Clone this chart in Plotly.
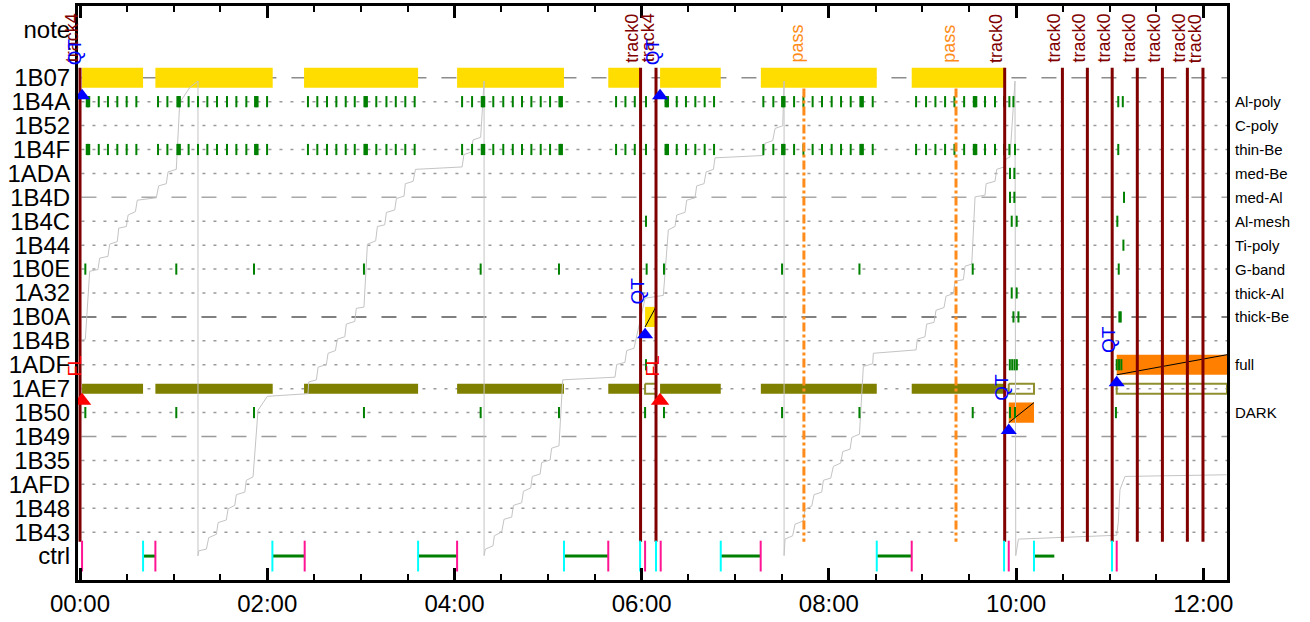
import plotly.graph_objects as go
import pandas as pd

# ---------------- data ----------------
T0 = pd.Timestamp("2024-01-01 00:00:00")
X_RANGE = [-1.3, 735.2]  # minutes after 00:00

row_labels = ["note", "1B07", "1B4A", "1B52", "1B4F", "1ADA", "1B4D", "1B4C", "1B44", "1B0E",
              "1A32", "1B0A", "1B4B", "1ADF", "1AE7", "1B50", "1B49", "1B35", "1AFD", "1B48",
              "1B43", "ctrl"]
row_pos = [-2, 0, 1, 2, 3, 4, 5, 6, 7, 8, 9, 10, 11, 12, 13, 14, 15, 16, 17, 18, 19, 20]

filter_rows = [1, 2, 3, 4, 5, 6, 7, 8, 9, 10, 12, 14]
filter_names = ["Al-poly", "C-poly", "thin-Be", "med-Be", "med-Al", "Al-mesh", "Ti-poly",
                "G-band", "thick-Al", "thick-Be", "full", "DARK"]

dashed_rows = [0, 5, 10, 15]
dashed_colors = ["#8c8c8c", "#a8a8a8", "#555555", "#9a9a9a"]

# exposure intervals (minutes)
exp_start = [1.3, 48.3, 143.6, 241.7, 338.6, 371.8, 436.4, 533.1]
exp_end = [40.4, 123.5, 216.7, 310.2, 359.0, 410.7, 510.7, 592.9]
hollow_start = [362.2, 595.3, 664.5]
hollow_end = [369.2, 611.5, 735.2]
orange_start = [595.3, 664.5]
orange_end = [611.5, 735.2]
orange_row = [14, 12]
small_start = [362.2]
small_end = [369.2]
small_row = [10]

# triangles / flags
qt_time = [1.3, 371.8, 362.2, 595.3, 664.5]
qt_row = [0.75, 0.75, 10.75, 14.75, 12.75]
qt_label_row = [-0.42, -0.42, 9.58, 13.58, 11.58]
fl_time = [1.3, 371.8]
fl_row = [13.5, 13.5]
fl_label_row = [12.8, 12.8]

# track and pass lines
track_time = [0.0, 359.3, 369.2, 592.7, 629.7, 645.7, 661.6, 677.7, 693.8, 709.8, 719.8]
track_text = ["track4", "track0", "track4", "track0", "track0", "track0", "track0", "track0",
              "track0", "track0", "track0"]
pass_time = [464.0, 561.5]

# ctrl row
pink_time = [1.3, 48.3, 144.0, 241.7, 338.6, 362.2, 372.2, 436.3, 533.1, 595.3, 664.5]
cyan_time = [40.4, 123.3, 216.7, 310.2, 359.0, 369.2, 410.7, 510.7, 592.3, 611.5, 661.5]
seg_start = [40.4, 123.3, 216.7, 310.2, 410.7, 510.7, 611.5]
seg_end = [48.3, 144.0, 241.7, 338.6, 436.3, 533.1, 624.5]

# green event ticks per row
ticks_1B4A = [5.1, 12.0, 17.9, 23.9, 29.9, 36.1,
              50.0, 56.0, 63.2, 69.6, 75.6, 81.6, 87.8, 94.2, 100.2, 106.6, 113.0, 119.9,
              146.1, 152.1, 158.3, 164.3, 170.3, 176.1, 183.1, 189.9, 196.4, 202.4, 208.5, 214.5,
              244.9, 251.3, 258.3, 264.9, 271.3, 277.4, 283.3, 289.3, 295.3, 301.3, 308.1,
              343.6, 349.6, 355.6, 362.8,
              376.1, 382.5, 388.4, 394.4, 400.4, 406.4,
              438.0, 444.4, 450.8, 457.7, 463.7, 469.6, 475.6, 481.8, 487.8, 494.0, 501.0, 508.1,
              535.9, 542.3, 548.3, 554.5, 560.5, 566.7, 573.7, 580.1, 586.5, 592.3, 595.7, 598.3,
              665.5, 668.4]
ticks_1B4F = [5.1, 12.0, 17.9, 23.9, 29.9, 36.1,
              50.0, 56.0, 63.2, 69.6, 75.6, 81.6, 87.8, 94.2, 100.2, 106.6, 113.0, 119.9,
              146.1, 152.1, 158.3, 164.3, 170.3, 176.1, 183.1, 189.9, 196.4, 202.4, 208.5, 214.5,
              244.9, 251.3, 258.3, 264.9, 271.3, 277.4, 283.3, 289.3, 295.3, 301.3, 308.1,
              343.6, 349.6, 355.6, 362.8,
              376.1, 382.5, 388.4, 394.4, 400.4, 406.4,
              438.0, 444.4, 450.8, 457.7, 463.7, 469.6, 475.6, 481.8, 487.8, 494.0, 501.0, 508.1,
              535.9, 542.3, 548.3, 554.5, 560.5, 566.7, 573.7, 580.1, 586.5, 592.3, 595.7, 599.3,
              665.5]
ticks_1ADA = [596.1, 598.9]
ticks_1B4D = [596.1, 598.9, 669.2]
ticks_1B4C = [362.8, 597.2, 600.4, 664.9]
ticks_1B44 = [668.8]
ticks_1B0E = [3.4, 61.7, 111.5, 182.0, 256.8, 307.0, 363.2, 374.3, 450.0, 499.6, 572.2, 665.8]
ticks_1A32 = [597.2, 600.4]
ticks_1B0A = [598.3, 601.5, 666.2, 667.1]
ticks_1ADF = [362.8, 596.0, 597.5, 599.0, 600.5, 664.5, 666.0, 667.5]
ticks_1B50 = [3.4, 61.7, 111.5, 182.0, 256.8, 307.0, 362.2, 374.3, 450.0, 499.6, 572.2,
              596.1, 599.3, 664.0]
thick_ticks = [5.1, 63.2, 113.0, 183.1, 258.3, 308.1, 376.1, 450.8, 501.0, 573.7]

# cumulative progress (light grey saw-tooth)
prog_t = [-1.3, 3.4, 6.2, 11.5, 12.6, 17.9, 19.0, 23.9, 24.8, 29.7, 30.8, 35.5, 36.7, 48.9, 50.4,
          55.3, 56.4, 61.7, 63.9, 70.3, 75.6, 75.6,
          76.1, 81.0, 82.5, 87.4, 88.5, 93.8, 94.9, 99.2, 100.2, 105.6, 106.6, 110.9, 114.1, 120.1,
          146.1, 146.6, 151.5, 152.6, 157.9, 159.0, 163.7, 164.9, 169.7, 170.7, 176.1, 177.1,
          182.0, 184.2, 189.5, 190.6, 195.3, 196.4, 201.7, 202.8, 207.7, 208.5, 213.5, 215.0,
          244.9, 246.1, 250.8, 251.9, 256.8, 259.0, 259.0,
          259.8, 264.7, 265.6, 270.3, 271.8, 276.7, 277.8, 283.1, 284.2, 288.9, 289.9, 294.9,
          295.9, 301.3, 302.3, 307.0, 309.4, 342.9, 344.0, 349.3, 350.4, 355.1, 356.8, 362.2,
          373.9, 377.1, 381.4, 382.5, 387.8, 388.9, 394.2, 395.3, 400.0, 401.3, 406.0, 407.0,
          438.0, 439.1, 444.0, 445.5, 450.4, 451.3, 451.3,
          451.9, 456.8, 458.3, 463.6, 464.7, 469.0, 470.5, 475.4, 476.5, 481.2, 482.9, 487.6,
          488.9, 493.6, 494.7, 499.6, 502.1, 508.1, 508.5, 535.9, 536.7, 541.6, 542.7, 547.4,
          548.7, 553.8, 555.1, 559.8, 560.9, 566.2, 567.3, 571.6, 573.7, 580.1, 580.8, 586.5,
          587.6, 592.3, 593.6, 596.1, 598.3, 599.3, 599.8,
          601.5, 664.5, 665.5, 666.6, 669.8, 735.0]
prog_r = [11.0, 10.93, 8.09, 8.02, 7.54, 7.47, 6.96, 6.85, 6.29, 6.22, 5.74, 5.60, 5.12, 5.02, 4.52,
          4.43, 3.94, 3.83, 1.04, 0.41, 0.14, 19.99,
          19.78, 19.71, 19.23, 19.09, 18.60, 18.49, 18.02, 17.88, 17.43, 17.33, 16.83, 16.69, 13.90, 13.32,
          13.21, 12.72, 12.63, 12.10, 11.99, 11.52, 11.41, 10.93, 10.83, 10.30, 10.19, 9.64,
          9.59, 6.96, 6.82, 6.22, 6.15, 5.63, 5.53, 5.05, 4.95, 4.43, 4.33, 3.83,
          3.73, 3.21, 3.11, 2.60, 2.49, 0.14, 19.98,
          19.71, 19.57, 19.15, 18.99, 18.46, 18.37, 17.88, 17.77, 17.29, 17.15, 16.67, 16.57,
          16.09, 15.98, 15.49, 15.39, 12.63, 12.52, 11.99, 11.90, 11.41, 11.31, 10.79, 9.22,
          9.10, 6.36, 6.22, 5.74, 5.63, 5.12, 5.02, 4.52, 4.43, 3.94, 3.83, 3.35,
          3.25, 2.74, 2.63, 2.12, 2.01, 0.14, 19.98,
          19.29, 19.15, 18.67, 18.53, 18.05, 17.91, 17.43, 17.33, 16.83, 16.74, 16.25, 16.11,
          15.63, 15.53, 15.04, 14.90, 12.07, 11.96, 11.52, 11.38, 10.93, 10.83, 10.30, 10.23,
          9.72, 9.61, 9.13, 9.03, 8.51, 8.44, 7.88, 7.79, 4.98, 4.91, 4.43, 4.33,
          3.83, 3.73, 3.39, 3.32, 1.31, 0.14, 19.98,
          19.29, 19.13, 18.60, 17.22, 16.67, 16.60]

# ---------------- helpers ----------------
FONT = "Liberation Sans, Arial, sans-serif"


def tm(m):
    if m is None:
        return None
    return (T0 + pd.Timedelta(minutes=m)).strftime("%Y-%m-%d %H:%M:%S.%f")


def boxes(starts, ends, rows, half):
    xs, ys = [], []
    for s, e, r in zip(starts, ends, rows):
        xs += [tm(s), tm(e), tm(e), tm(s), tm(s), None]
        ys += [r - half, r - half, r + half, r + half, r - half, None]
    return xs, ys


def diagonals(starts, ends, rows, half):
    xs, ys = [], []
    for s, e, r in zip(starts, ends, rows):
        xs += [tm(s), tm(e), None]
        ys += [r + half, r - half, None]
    return xs, ys


def vlines(times, y0, y1):
    xs, ys = [], []
    for t in times:
        xs += [tm(t), tm(t), None]
        ys += [y0, y1, None]
    return xs, ys


fig = go.Figure()

# exposure bars
x, y = boxes(exp_start, exp_end, [0] * len(exp_start), 0.42)
fig.add_trace(go.Scatter(x=x, y=y, fill="toself", fillcolor="#FFDD00", mode="lines",
                         line=dict(width=0), hoverinfo="skip"))
x, y = boxes(exp_start, exp_end, [13] * len(exp_start), 0.21)
fig.add_trace(go.Scatter(x=x, y=y, fill="toself", fillcolor="#808000", mode="lines",
                         line=dict(width=0), hoverinfo="skip"))
x, y = boxes(hollow_start, hollow_end, [13] * len(hollow_start), 0.21)
fig.add_trace(go.Scatter(x=x, y=y, mode="lines", line=dict(width=2, color="#8f8f30"),
                         hoverinfo="skip"))
x, y = boxes(orange_start, orange_end, orange_row, 0.42)
fig.add_trace(go.Scatter(x=x, y=y, fill="toself", fillcolor="#FF8000", mode="lines",
                         line=dict(width=0), hoverinfo="skip"))
x, y = boxes(small_start, small_end, small_row, 0.42)
fig.add_trace(go.Scatter(x=x, y=y, fill="toself", fillcolor="#FFDD00", mode="lines",
                         line=dict(width=0), hoverinfo="skip"))
x, y = diagonals(orange_start + small_start, orange_end + small_end, orange_row + small_row, 0.42)
fig.add_trace(go.Scatter(x=x, y=y, mode="lines", line=dict(width=1, color="black"),
                         hoverinfo="skip"))

# progress line
fig.add_trace(go.Scatter(x=[tm(t) for t in prog_t], y=prog_r, mode="lines",
                         line=dict(width=1, color="#c4c4c4"), hoverinfo="skip"))

# green event ticks
tick_rows = {1: ticks_1B4A, 3: ticks_1B4F, 4: ticks_1ADA, 5: ticks_1B4D, 6: ticks_1B4C,
             7: ticks_1B44, 8: ticks_1B0E, 9: ticks_1A32, 10: ticks_1B0A, 12: ticks_1ADF,
             14: ticks_1B50}
gx, gy = [], []
for r, ts in tick_rows.items():
    gx += [tm(t) for t in ts]
    gy += [r] * len(ts)
fig.add_trace(go.Scatter(x=gx, y=gy, mode="markers",
                         marker=dict(symbol="line-ns", size=8,
                                     line=dict(width=2, color="#008000")), hoverinfo="skip"))
tx = [tm(t) for t in thick_ticks] * 2
ty = [1] * len(thick_ticks) + [3] * len(thick_ticks)
fig.add_trace(go.Scatter(x=tx, y=ty, mode="markers",
                         marker=dict(symbol="line-ns", size=8,
                                     line=dict(width=4.5, color="#008000")), hoverinfo="skip"))

# pass lines
x, y = vlines(pass_time, 0.45, 19.4)
fig.add_trace(go.Scatter(x=x, y=y, mode="lines",
                         line=dict(width=3, color="#FF8C1A", dash="dashdot"), hoverinfo="skip"))
# track lines
x, y = vlines(track_time, -0.42, 19.4)
fig.add_trace(go.Scatter(x=x, y=y, mode="lines", line=dict(width=3, color="#800000"),
                         hoverinfo="skip"))

# ctrl row
sx, sy = [], []
for s, e in zip(seg_start, seg_end):
    sx += [tm(s), tm(e), None]
    sy += [20, 20, None]
fig.add_trace(go.Scatter(x=sx, y=sy, mode="lines", line=dict(width=3, color="#008000"),
                         hoverinfo="skip"))
fig.add_trace(go.Scatter(x=[tm(t) for t in cyan_time], y=[20] * len(cyan_time), mode="markers",
                         marker=dict(symbol="line-ns", size=22,
                                     line=dict(width=2, color="#00FFFF")), hoverinfo="skip"))
fig.add_trace(go.Scatter(x=[tm(t) for t in pink_time], y=[20] * len(pink_time), mode="markers",
                         marker=dict(symbol="line-ns", size=22,
                                     line=dict(width=2, color="#FF1493")), hoverinfo="skip"))

# triangles
fig.add_trace(go.Scatter(x=[tm(t) for t in qt_time], y=qt_row, mode="markers",
                         marker=dict(symbol="triangle-up", size=14, color="#0000FF"),
                         hoverinfo="skip"))
fig.add_trace(go.Scatter(x=[tm(t) for t in fl_time], y=fl_row, mode="markers",
                         marker=dict(symbol="triangle-up", size=16, color="#FF0000"),
                         hoverinfo="skip"))

# grid lines per row
shapes = []
for r in range(0, 20):
    if r in dashed_rows:
        col = dashed_colors[dashed_rows.index(r)]
        dash = "15px,15px"
    else:
        col = "#9a9a9a"
        dash = "3px,8px"
    shapes.append(dict(type="line", xref="paper", x0=0.003, x1=1, yref="y", y0=r, y1=r,
                       line=dict(color=col, width=1.5, dash=dash), layer="below"))

ann = []
for t, txt in zip(track_time, track_text):
    ann.append(dict(x=tm(t), y=-0.42, xref="x", yref="y", text=txt, textangle=-90,
                    showarrow=False, xanchor="center", yanchor="bottom", xshift=-8, yshift=4,
                    font=dict(size=18, color="#800000", family=FONT), borderpad=0))
for t in pass_time:
    ann.append(dict(x=tm(t), y=-0.42, xref="x", yref="y", text="pass", textangle=-90,
                    showarrow=False, xanchor="center", yanchor="bottom", xshift=-7, yshift=4,
                    font=dict(size=18, color="#FF8C1A", family=FONT), borderpad=0))
for t, r in zip(qt_time, qt_label_row):
    ann.append(dict(x=tm(t), y=r, xref="x", yref="y", text="QT", textangle=-90,
                    showarrow=False, xanchor="center", yanchor="bottom", xshift=-8, yshift=1,
                    font=dict(size=19, color="#0000FF", family=FONT), borderpad=0))
for t, r in zip(fl_time, fl_label_row):
    ann.append(dict(x=tm(t), y=r, xref="x", yref="y", text="FL", textangle=-90,
                    showarrow=False, xanchor="center", yanchor="bottom", xshift=-7, yshift=6,
                    font=dict(size=18, color="#FF0000", family=FONT), borderpad=0))
for r, name in zip(filter_rows, filter_names):
    ann.append(dict(x=1, y=r, xref="paper", yref="y", text=name, showarrow=False,
                    xanchor="left", yanchor="middle", xshift=6,
                    font=dict(size=15, color="black", family=FONT)))

fig.update_layout(
    width=1310, height=622,
    margin=dict(l=78, r=83, t=3, b=42),
    plot_bgcolor="white", paper_bgcolor="white",
    showlegend=False,
    font=dict(family=FONT, size=24, color="black"),
    shapes=shapes, annotations=ann,
)
fig.update_xaxes(
    type="date", range=[tm(X_RANGE[0]), tm(X_RANGE[1])],
    tickformat="%H:%M", dtick=7200000, tick0=tm(0),
    ticks="inside", ticklen=12, tickwidth=3, tickcolor="black",
    showline=True, linecolor="black", linewidth=3, mirror="allticks",
    showgrid=False, zeroline=False,
    minor=dict(dtick=1800000, tick0=tm(0), ticks="inside", ticklen=6, tickwidth=2,
               tickcolor="black", showgrid=False),
    tickfont=dict(size=24, family=FONT),
)
fig.update_yaxes(
    range=[21, -3], tickvals=row_pos, ticktext=row_labels, ticks="",
    showline=True, linecolor="black", linewidth=3, mirror=True,
    showgrid=False, zeroline=False, tickfont=dict(size=24, family=FONT),
)

fig.write_html("out.html", config={"displayModeBar": False},
               post_script="document.body.style.margin='0';document.body.style.overflow='hidden';")
